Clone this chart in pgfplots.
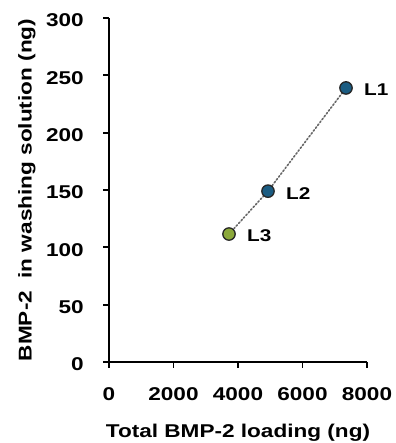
\documentclass[border=0pt]{standalone}
\usepackage{pgfplots}
\pgfplotsset{compat=1.18}
\usepackage{fontspec}
\setmainfont{Liberation Sans}[FakeStretch=1.22]
\definecolor{bluept}{HTML}{1B5C82}
\definecolor{greenpt}{HTML}{8BA83A}
\begin{document}
\begin{tikzpicture}
\useasboundingbox (0,0) rectangle (395pt,443pt);
\begin{axis}[
  at={(109pt,81pt)}, anchor=south west,
  scale only axis, width=258pt, height=344pt,
  xmin=0, xmax=8000, ymin=0, ymax=300,
  axis x line*=bottom, axis y line*=left,
  axis line style={line width=1.8pt, -},
  xtick={0,2000,4000,6000,8000},
  ytick={0,50,100,150,200,250,300},
  tick align=outside,
  major tick length=6pt,
  every tick/.style={line width=1.8pt, black},
  /pgf/number format/assume math mode=true,
  /pgf/number format/1000 sep={},
  tick label style={font=\fontsize{18.5}{21}\selectfont\bfseries, inner sep=0pt},
  xticklabel style={anchor=center, yshift=-26pt},
  yticklabel style={anchor=east, xshift=-19pt, yshift=-2.5pt},
  xlabel={Total BMP-2 loading (ng)},
  ylabel={BMP-2\ \ in washing solution (ng)},
  label style={font=\fontsize{18.5}{21}\selectfont\bfseries, inner sep=0pt},
  xlabel style={at={(axis description cs:0.5,-0.206)}, anchor=center},
  ylabel style={at={(axis description cs:-0.318,0.5)}, anchor=center},
  clip=false,
]
\addplot[gray!80!black, line width=1.6pt, dotted, line cap=round] coordinates {(3721,111.6) (4930,149) (7349,239)};
\addplot[only marks, mark=*, mark size=6.2pt, mark options={fill=bluept, draw=black!85, line width=1.3pt}] coordinates {(7349,239) (4930,149)};
\addplot[only marks, mark=*, mark size=6.2pt, mark options={fill=greenpt, draw=black!85, line width=1.3pt}] coordinates {(3721,111.6)};
\node[anchor=west, inner sep=0pt, font=\fontsize{17}{20}\selectfont\bfseries] at (axis cs:7349,239) [xshift=18pt, yshift=-2pt] {L1};
\node[anchor=west, inner sep=0pt, font=\fontsize{17}{20}\selectfont\bfseries] at (axis cs:4930,149) [xshift=18pt, yshift=-2pt] {L2};
\node[anchor=west, inner sep=0pt, font=\fontsize{17}{20}\selectfont\bfseries] at (axis cs:3721,111.6) [xshift=18pt, yshift=-2pt] {L3};
\end{axis}
\end{tikzpicture}
\end{document}
